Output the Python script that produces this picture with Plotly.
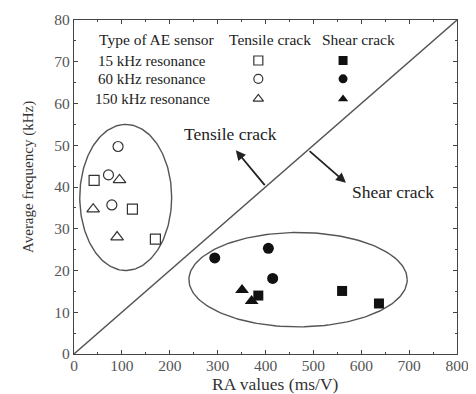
import numpy as np
import plotly.graph_objects as go

# Tensile crack (open symbols)
t15_x = [42, 122, 170]
t15_y = [41.6, 34.7, 27.5]
t60_x = [92, 72, 79]
t60_y = [49.7, 42.9, 35.7]
t150_x = [95, 40, 90]
t150_y = [41.7, 34.7, 28.0]

# Shear crack (filled symbols)
s15_x = [385, 560, 637]
s15_y = [14.0, 15.1, 12.1]
s60_x = [294, 406, 415]
s60_y = [23.0, 25.3, 18.1]
s150_x = [351, 371]
s150_y = [15.3, 12.7]

# Legend table
legend_rows = ["15 kHz resonance", "60 kHz resonance", "150 kHz resonance"]
legend_row_y = [70.3, 65.9, 61.1]
legend_tensile_x = 385
legend_shear_x = 562
legend_label_x = 163
legend_header_y = 75.3

# Ellipses (center x, center y, radius x, radius y)
ell_tensile = (108, 37.5, 96, 17.5)
ell_shear = (468, 17.8, 228, 11.3)

# Dividing line
div_x = [0, 800]
div_y = [0, 80]

line_col = "#444444"
font_fam = "Liberation Serif, Times New Roman, serif"

fig = go.Figure()

fig.add_trace(go.Scatter(x=div_x, y=div_y, mode="lines",
                         line=dict(color="#555555", width=1.4), hoverinfo="skip"))

for (cx, cy, rx, ry) in [ell_tensile, ell_shear]:
    t = np.linspace(0, 2 * np.pi, 200)
    fig.add_trace(go.Scatter(x=cx + rx * np.cos(t), y=cy + ry * np.sin(t), mode="lines",
                             line=dict(color="#555555", width=1.4), hoverinfo="skip"))

mk_line = dict(color="#333333", width=1.2)
fig.add_trace(go.Scatter(x=t15_x, y=t15_y, mode="markers",
                         marker=dict(symbol="square-open", size=10, color="#333333", line=mk_line)))
fig.add_trace(go.Scatter(x=t60_x, y=t60_y, mode="markers",
                         marker=dict(symbol="circle-open", size=10, color="#333333", line=mk_line)))
fig.add_trace(go.Scatter(x=t150_x, y=t150_y, mode="markers",
                         marker=dict(symbol="triangle-up-open", size=11, color="#333333", line=mk_line)))
fig.add_trace(go.Scatter(x=s15_x, y=s15_y, mode="markers",
                         marker=dict(symbol="square", size=10, color="#111111")))
fig.add_trace(go.Scatter(x=s60_x, y=s60_y, mode="markers",
                         marker=dict(symbol="circle", size=11, color="#111111")))
fig.add_trace(go.Scatter(x=s150_x, y=s150_y, mode="markers",
                         marker=dict(symbol="triangle-up", size=12, color="#111111")))

# Legend table symbols
open_syms = ["square-open", "circle-open", "triangle-up-open"]
fill_syms = ["square", "circle", "triangle-up"]
fig.add_trace(go.Scatter(x=[legend_tensile_x] * 3, y=legend_row_y, mode="markers",
                         marker=dict(symbol=open_syms, size=9, color="#333333", line=mk_line)))
fig.add_trace(go.Scatter(x=[legend_shear_x] * 3, y=legend_row_y, mode="markers",
                         marker=dict(symbol=fill_syms, size=9, color="#111111")))

fs = 15.5
fig.add_annotation(x=legend_label_x + 10, y=legend_header_y, text="Type of AE sensor",
                   showarrow=False, font=dict(size=fs, family=font_fam, color="#222"))
fig.add_annotation(x=409, y=legend_header_y, text="Tensile crack",
                   showarrow=False, font=dict(size=fs, family=font_fam, color="#222"))
fig.add_annotation(x=595, y=legend_header_y, text="Shear crack",
                   showarrow=False, font=dict(size=fs, family=font_fam, color="#222"))
for lbl, yy in zip(legend_rows, legend_row_y):
    fig.add_annotation(x=legend_label_x, y=yy, text=lbl, showarrow=False,
                       font=dict(size=fs - 0.5, family=font_fam, color="#222"))

# Arrows
fig.add_annotation(x=338, y=48.8, ax=401, ay=40.1, xref="x", yref="y", axref="x", ayref="y",
                   text="", showarrow=True, arrowhead=2, arrowsize=1.1, arrowwidth=1.8, arrowcolor="#222",
                   standoff=0, startstandoff=0)
fig.add_annotation(x=568, y=41.0, ax=489, ay=48.9, xref="x", yref="y", axref="x", ayref="y",
                   text="", showarrow=True, arrowhead=2, arrowsize=1.1, arrowwidth=1.8, arrowcolor="#222",
                   standoff=0, startstandoff=0)
fig.add_annotation(x=326, y=52.8, text="Tensile crack", showarrow=False,
                   font=dict(size=17.5, family=font_fam, color="#222"))
fig.add_annotation(x=666, y=38.8, text="Shear crack", showarrow=False,
                   font=dict(size=17.5, family=font_fam, color="#222"))

# Axis titles (placed as annotations to match the reference offsets)
fig.add_annotation(xref="paper", yref="paper", x=0, y=0.5, xshift=-46, yshift=10,
                   xanchor="center", yanchor="middle",
                   text="Average frequency (kHz)", textangle=-90, showarrow=False,
                   font=dict(size=15, family=font_fam, color="#333"))
fig.add_annotation(xref="paper", yref="paper", x=0.5, y=0, xshift=10, yshift=-30,
                   xanchor="center", yanchor="middle",
                   text="RA values (ms/V)", showarrow=False,
                   font=dict(size=17.5, family=font_fam, color="#333"))

axis_common = dict(showgrid=False, zeroline=False, showline=True, linecolor=line_col, linewidth=1.4,
                   mirror="ticks", ticks="inside", ticklen=4, tickcolor=line_col, automargin=False,
                   tickfont=dict(size=15.5, family=font_fam, color="#555"))
fig.update_xaxes(range=[0, 800], dtick=100, ticklabelstandoff=-3,
                 minor=dict(dtick=50, ticks="inside", ticklen=2, tickcolor=line_col), **axis_common)
fig.update_yaxes(range=[0, 80], dtick=10,
                 minor=dict(dtick=5, ticks="inside", ticklen=2, tickcolor=line_col), **axis_common)

# page body adds an 8px offset; compensate so the plot frame lands where the reference has it
fig.update_layout(width=468, height=386, margin=dict(l=66, r=19, t=12, b=40),
                  showlegend=False, plot_bgcolor="white", paper_bgcolor="white")

fig.write_html("out.html")
